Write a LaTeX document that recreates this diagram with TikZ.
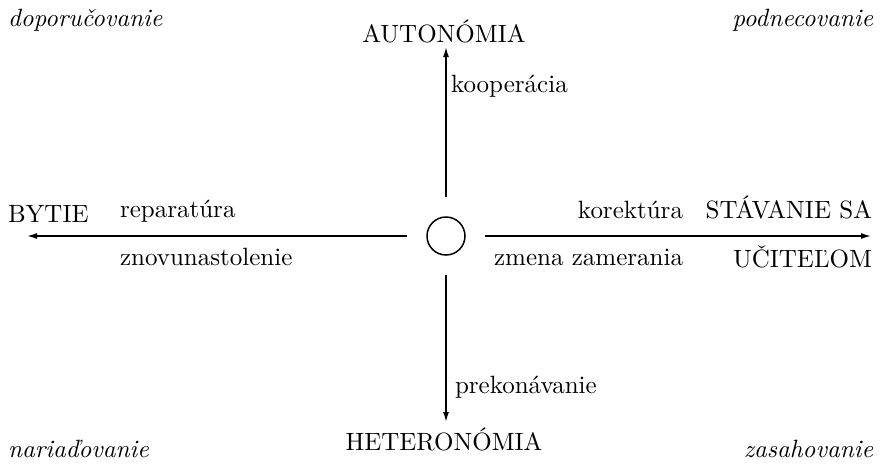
\documentclass[tikz,border=0pt]{standalone}
\usetikzlibrary{arrows.meta}
\begin{document}
\begin{tikzpicture}[x=0.4pt,y=-0.4pt,
  lbl/.style={inner sep=0pt,outer sep=0pt},
  corner/.style={lbl,font=\itshape},
  axis/.style={line width=0.6pt,-{Latex[length=4pt,width=2.4pt]},shorten <=7.6pt}]
\useasboundingbox (0,0) rectangle (880,463);
% centre
\node[draw,circle,line width=0.6pt,minimum size=15.2pt,inner sep=0pt] (c) at (446,236) {};
% end points
\coordinate (top) at (446,47);
\coordinate (bot) at (446,422);
\coordinate (lft) at (27,236);
\coordinate (rgt) at (871,236);
% axes
\draw[axis] (c) -- (top);
\draw[axis] (c) -- (bot);
\draw[axis] (c) -- (lft);
\draw[axis] (c) -- (rgt);
% pole labels
\node[lbl,anchor=base] (aut) at (444,42) {AUTONÓMIA};
\node[lbl,anchor=base] (het) at (444,450) {HETERONÓMIA};
\node[lbl,anchor=base west] (byt) at (8,222) {BYTIE};
\node[lbl,anchor=base east] (stav) at (872,218) {STÁVANIE SA};
\node[lbl,anchor=base east] (uc) at (872,267) {UČITEĽOM};
% axis labels
\node[lbl,anchor=base west] (koop) at (451,92) {kooperácia};
\node[lbl,anchor=base west] (prek) at (455,393) {prekonávanie};
\node[lbl,anchor=base west] (rep) at (120,217) {reparatúra};
\node[lbl,anchor=base west] (znov) at (120,265) {znovunastolenie};
\node[lbl,anchor=base east] (kor) at (683,218) {korektúra};
\node[lbl,anchor=base east] (zmen) at (683,265) {zmena zamerania};
% corner labels
\node[corner,anchor=base west] (dop) at (8,26) {doporučovanie};
\node[corner,anchor=base east] (podn) at (873,26) {podnecovanie};
\node[corner,anchor=base west] (nar) at (8,457) {nariaďovanie};
\node[corner,anchor=base east] (zas) at (873,457) {zasahovanie};
\end{tikzpicture}
\end{document}
